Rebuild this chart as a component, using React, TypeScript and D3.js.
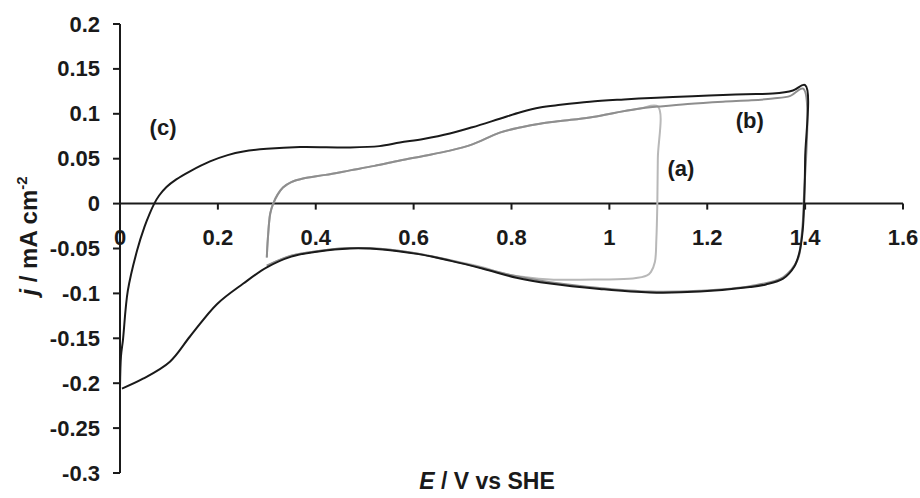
import React from "react";
import * as d3 from "d3";

type Pt = [number, number];

const xTicks = [0, 0.2, 0.4, 0.6, 0.8, 1, 1.2, 1.4, 1.6];
const yTicks = [0.2, 0.15, 0.1, 0.05, 0, -0.05, -0.1, -0.15, -0.2, -0.25, -0.3];

// curve (c): 0 -> 1.4 V
const curveC: Pt[] = [
  [0.0, -0.205], [0.002, -0.17], [0.006, -0.152], [0.016, -0.097], [0.035, -0.052],
  [0.05, -0.026], [0.06, -0.012], [0.07, 0.0], [0.08, 0.009], [0.095, 0.0185],
  [0.115, 0.027], [0.143, 0.036],
  [0.184, 0.047], [0.22, 0.054], [0.252, 0.058], [0.3, 0.061], [0.368, 0.063],
  [0.47, 0.0625], [0.53, 0.064], [0.572, 0.068], [0.62, 0.072], [0.674, 0.078],
  [0.72, 0.085], [0.776, 0.0945], [0.82, 0.102], [0.858, 0.107], [0.9, 0.11],
  [0.96, 0.1135], [1.03, 0.116], [1.097, 0.118], [1.17, 0.1195], [1.232, 0.121],
  [1.3, 0.122], [1.334, 0.1225], [1.375, 0.126], [1.4, 0.132],
  [1.4, 0.05], [1.398, 0.0], [1.395, -0.03], [1.388, -0.055], [1.378, -0.07],
  [1.355, -0.0835], [1.32, -0.09], [1.287, -0.093], [1.185, -0.098], [1.083, -0.099],
  [0.98, -0.095], [0.879, -0.089], [0.81, -0.0825], [0.742, -0.0725], [0.674, -0.0635],
  [0.607, -0.056], [0.537, -0.051], [0.47, -0.05], [0.402, -0.0535], [0.35, -0.059],
  [0.3, -0.071], [0.252, -0.089], [0.198, -0.112], [0.143, -0.148], [0.102, -0.176],
  [0.047, -0.195], [0.004, -0.206],
];

// curve (b): 0.3 -> 1.4 V
const curveB: Pt[] = [
  [0.3, -0.06], [0.302, -0.04], [0.307, -0.011], [0.313, 0.0], [0.322, 0.01],
  [0.333, 0.018], [0.35, 0.024], [0.374, 0.028], [0.42, 0.032], [0.47, 0.037],
  [0.52, 0.042], [0.572, 0.048], [0.62, 0.053], [0.674, 0.059], [0.72, 0.066],
  [0.776, 0.079], [0.82, 0.085], [0.858, 0.089], [0.9, 0.092], [0.96, 0.096],
  [1.01, 0.101], [1.063, 0.106], [1.099, 0.108], [1.16, 0.111], [1.232, 0.1135],
  [1.29, 0.115], [1.334, 0.117], [1.37, 0.12], [1.396, 0.128],
  [1.397, 0.0], [1.393, -0.035], [1.385, -0.062], [1.355, -0.082], [1.287, -0.092],
  [1.185, -0.097], [1.083, -0.098], [0.98, -0.094], [0.879, -0.0875], [0.81, -0.081],
  [0.742, -0.072], [0.674, -0.063], [0.607, -0.0555], [0.537, -0.0505], [0.47, -0.0495],
  [0.402, -0.053], [0.35, -0.058], [0.3, -0.069],
];

// curve (a): 0.3 -> 1.1 V
const curveA: Pt[] = [
  [0.3, -0.06], [0.302, -0.04], [0.307, -0.011], [0.313, 0.0], [0.322, 0.01],
  [0.333, 0.018], [0.35, 0.024], [0.374, 0.028], [0.42, 0.032], [0.47, 0.037],
  [0.52, 0.042], [0.572, 0.048], [0.62, 0.053], [0.674, 0.059], [0.72, 0.066],
  [0.776, 0.079], [0.82, 0.085], [0.858, 0.089], [0.9, 0.092], [0.96, 0.096],
  [1.01, 0.101], [1.063, 0.106], [1.099, 0.108],
  [1.099, 0.05], [1.098, 0.0], [1.096, -0.04], [1.093, -0.065], [1.085, -0.076],
  [1.077, -0.08], [1.048, -0.0835], [0.98, -0.0845], [0.879, -0.0845], [0.83, -0.082],
  [0.776, -0.077], [0.742, -0.071], [0.674, -0.063], [0.607, -0.0555], [0.537, -0.0505],
  [0.47, -0.0495], [0.402, -0.053], [0.35, -0.058], [0.3, -0.069],
];

const labels: { text: string; x: number; y: number }[] = [
  { text: "(c)", x: 0.088, y: 0.085 },
  { text: "(a)", x: 1.146, y: 0.039 },
  { text: "(b)", x: 1.287, y: 0.093 },
];

const FONT = "'Liberation Sans', Arial, sans-serif";

export default function App() {
  const W = 920, H = 498;
  const x = d3.scaleLinear().domain([0, 1.6]).range([120, 903]);
  const y = d3.scaleLinear().domain([-0.3, 0.2]).range([473, 24]);
  const line = d3
    .line<Pt>()
    .x((d) => x(d[0]))
    .y((d) => y(d[1]))
    .curve(d3.curveCatmullRom.alpha(0.5));

  const fmt = (v: number) => String(+v.toFixed(2));

  return (
    <svg
      width={W}
      height={H}
      style={{ position: "absolute", left: 0, top: 0, background: "#fff" }}
      fontFamily={FONT}
      fontWeight="bold"
    >
      {/* axes */}
      <line x1={x(0)} x2={x(0)} y1={y(0.2)} y2={y(-0.3)} stroke="#1a1a1a" strokeWidth={2} />
      <line x1={x(0)} x2={x(1.6)} y1={y(0)} y2={y(0)} stroke="#1a1a1a" strokeWidth={2} />
      {yTicks.map((t) => (
        <g key={"y" + t}>
          <line x1={x(0) - 7} x2={x(0)} y1={y(t)} y2={y(t)} stroke="#1a1a1a" strokeWidth={2} />
          <text x={100} y={y(t)} textAnchor="end" dominantBaseline="central" fontSize={22} fill="#1a1a1a">
            {fmt(t)}
          </text>
        </g>
      ))}
      {xTicks.map((t) => (
        <g key={"x" + t}>
          <line x1={x(t)} x2={x(t)} y1={y(0)} y2={y(0) + 6} stroke="#1a1a1a" strokeWidth={2} />
          <text x={x(t)} y={237} textAnchor="middle" dominantBaseline="central" fontSize={22} fill="#1a1a1a">
            {fmt(t)}
          </text>
        </g>
      ))}

      {/* curves */}
      <path d={line(curveA) || ""} fill="none" stroke="#b8b8b8" strokeWidth={2} />
      <path d={line(curveB) || ""} fill="none" stroke="#8e8e8e" strokeWidth={2} />
      <path d={line(curveC) || ""} fill="none" stroke="#1a1a1a" strokeWidth={2} />

      {labels.map((l) => (
        <text key={l.text} x={x(l.x)} y={y(l.y)} textAnchor="middle" dominantBaseline="central" fontSize={22} fill="#1a1a1a">
          {l.text}
        </text>
      ))}

      {/* axis titles */}
      <text x={487} y={489} textAnchor="middle" fontSize={23} fill="#1a1a1a">
        <tspan fontStyle="italic">E</tspan> / V vs SHE
      </text>
      <text
        transform="translate(37,236) rotate(-90)"
        textAnchor="middle"
        fontSize={24}
        fill="#1a1a1a"
      >
        <tspan fontStyle="italic">j</tspan> / mA cm
        <tspan fontSize={15} dy={-10}>-2</tspan>
      </text>
    </svg>
  );
}
